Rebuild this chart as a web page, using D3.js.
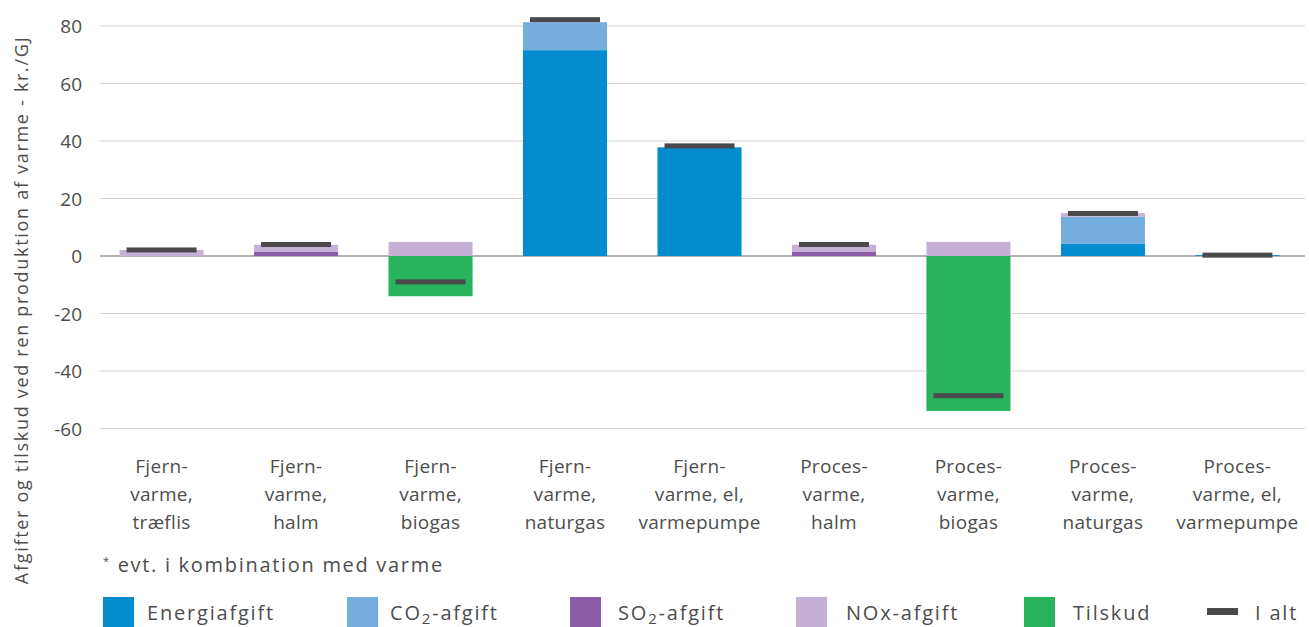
<!DOCTYPE html>
<html>
<head>
<meta charset="utf-8">
<script src="https://cdn.jsdelivr.net/npm/d3@7"></script>
<style>
  body { margin: 0; background: #fff; }
  text { font-family: "Open Sans", sans-serif; fill: #4d4d4d; }
</style>
</head>
<body>
<svg id="chart" width="1309" height="627"></svg>
<script>
// categories (line-broken labels)
var categories = [
  ["Fjern-", "varme,", "træflis"],
  ["Fjern-", "varme,", "halm"],
  ["Fjern-", "varme,", "biogas"],
  ["Fjern-", "varme,", "naturgas"],
  ["Fjern-", "varme, el,", "varmepumpe"],
  ["Proces-", "varme,", "halm"],
  ["Proces-", "varme,", "biogas"],
  ["Proces-", "varme,", "naturgas"],
  ["Proces-", "varme, el,", "varmepumpe"]
];
var energiafgift = [0, 0, 0, 71.6, 37.8, 0, 0, 4.2, 0.3];
var co2afgift    = [0, 0, 0, 9.7, 0, 0, 0, 9.4, 0];
var so2afgift    = [0, 1.4, 0, 0, 0, 1.4, 0, 0, 0];
var noxafgift    = [2.1, 2.5, 4.9, 0, 0, 2.5, 4.9, 1.3, 0];
var tilskud      = [0, 0, -14.0, 0, 0, 0, -53.9, 0, 0];
var iAlt         = [2.1, 4.0, -9.0, 82.2, 38.3, 4.0, -48.6, 14.8, 0.3];
var yTicks = [80, 60, 40, 20, 0, -20, -40, -60];

var series = [
  {name: "Energiafgift", values: energiafgift, color: "#058ccf"},
  {name: "CO2-afgift", values: co2afgift, color: "#75aede"},
  {name: "SO2-afgift", values: so2afgift, color: "#8b5ca8"},
  {name: "NOx-afgift", values: noxafgift, color: "#c5b1d6"},
  {name: "Tilskud", values: tilskud, color: "#28b35c"}
];
var totalColor = "#4a4a4c";

var svg = d3.select("#chart");

var x = d3.scaleBand()
    .domain(d3.range(categories.length))
    .range([94, 1305])
    .paddingInner(0.375)
    .paddingOuter(0.19);

var y = d3.scaleLinear().domain([-60, 80]).range([428.5, 26]);

// gridlines
svg.append("g")
  .selectAll("line")
  .data(yTicks)
  .join("line")
    .attr("x1", 100).attr("x2", 1305)
    .attr("y1", function(d){ return y(d); })
    .attr("y2", function(d){ return y(d); })
    .attr("stroke", function(d){ return d === 0 ? "#9a9a9a" : "#d4d4d4"; })
    .attr("stroke-width", function(d){ return d === 0 ? 1.5 : 1; });

// tick labels
svg.append("g")
  .selectAll("text")
  .data(yTicks)
  .join("text")
    .attr("x", 82)
    .attr("y", function(d){ return y(d) + 7; })
    .attr("text-anchor", "end")
    .attr("font-size", 19)
    .text(function(d){ return d; });

// stacked bars: positives up from zero, negatives down
series.forEach(function(s){ s.offsets = []; });
categories.forEach(function(c, i){
  var pos = 0, neg = 0;
  series.forEach(function(s){
    var v = s.values[i];
    if (v >= 0) { s.offsets[i] = [pos, pos + v]; pos += v; }
    else { s.offsets[i] = [neg + v, neg]; neg += v; }
  });
});

series.forEach(function(s){
  svg.append("g")
    .selectAll("rect")
    .data(s.offsets)
    .join("rect")
      .attr("x", function(d, i){ return x(i); })
      .attr("width", x.bandwidth())
      .attr("y", function(d){ return y(d[1]); })
      .attr("height", function(d){ return Math.max(0, y(d[0]) - y(d[1])); })
      .attr("fill", s.color);
});

// I alt markers
var mw = 70;
svg.append("g")
  .selectAll("rect")
  .data(iAlt)
  .join("rect")
    .attr("x", function(d, i){ return x(i) + x.bandwidth() / 2 - mw / 2; })
    .attr("width", mw)
    .attr("y", function(d){ return y(d) - 2.5; })
    .attr("height", 5)
    .attr("fill", totalColor);

// category labels
var lab = svg.append("g")
  .selectAll("text")
  .data(categories)
  .join("text")
    .attr("text-anchor", "middle")
    .attr("font-size", 19)
    .attr("letter-spacing", 0.3)
    .attr("x", function(d, i){ return x(i) + x.bandwidth() / 2; })
    .attr("y", 473);
lab.selectAll("tspan")
  .data(function(d){ return d; })
  .join("tspan")
    .attr("x", function(){ return d3.select(this.parentNode).attr("x"); })
    .attr("dy", function(d, j){ return j === 0 ? 0 : 28; })
    .text(function(d){ return d; });

// y axis title
svg.append("text")
  .attr("transform", "translate(28,310) rotate(-90)")
  .attr("text-anchor", "middle")
  .attr("font-size", 18)
  .attr("letter-spacing", 1.7)
  .text("Afgifter og tilskud ved ren produktion af varme - kr./GJ");

// footnote
var fn = svg.append("text")
  .attr("x", 103).attr("y", 572)
  .attr("font-size", 20)
  .attr("letter-spacing", 1.7);
fn.append("tspan").attr("font-size", 11).attr("dy", -7).text("*");
fn.append("tspan").attr("dy", 7).text(" evt. i kombination med varme");

// legend
var legendItems = [
  {sq: 103, tx: 147, color: series[0].color, parts: [["Energiafgift"]]},
  {sq: 347, tx: 390, color: series[1].color, parts: [["CO"], ["2", true], ["-afgift"]]},
  {sq: 570, tx: 618, color: series[2].color, parts: [["SO"], ["2", true], ["-afgift"]]},
  {sq: 796, tx: 846, color: series[3].color, parts: [["NOx-afgift"]]},
  {sq: 1024, tx: 1073, color: series[4].color, parts: [["Tilskud"]]}
];
legendItems.forEach(function(it){
  svg.append("rect")
    .attr("x", it.sq).attr("y", 597)
    .attr("width", 31).attr("height", 30)
    .attr("fill", it.color);
  var t = svg.append("text")
    .attr("x", it.tx).attr("y", 620)
    .attr("font-size", 20)
    .attr("letter-spacing", 1.8);
  it.parts.forEach(function(p, k){
    var prevSub = k > 0 && it.parts[k - 1][1];
    var ts = t.append("tspan").text(p[0]);
    if (p[1]) ts.attr("dy", 4).attr("font-size", 15);
    else if (prevSub) ts.attr("dy", -4);
  });
});
svg.append("rect")
  .attr("x", 1207).attr("y", 608)
  .attr("width", 31).attr("height", 7)
  .attr("fill", totalColor);
svg.append("text")
  .attr("x", 1255).attr("y", 620)
  .attr("font-size", 20)
  .attr("letter-spacing", 1.8)
  .text("I alt");
</script>
</body>
</html>
